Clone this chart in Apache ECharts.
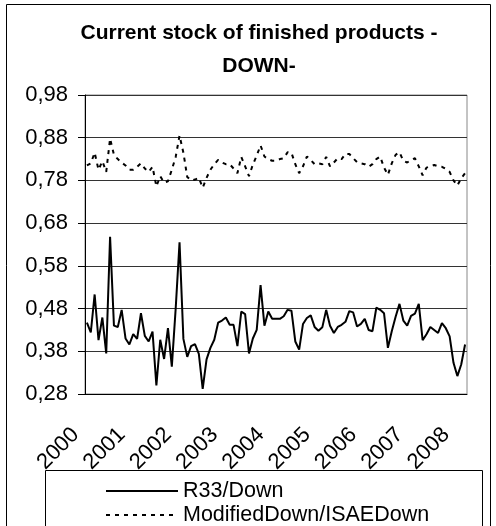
<!DOCTYPE html>
<html>
<head>
<meta charset="utf-8">
<script src="https://cdn.jsdelivr.net/npm/echarts@6/dist/echarts.min.js"></script>
<style>
  html, body { margin: 0; padding: 0; background: #fff; }
  #chart { width: 496px; height: 526px; }
</style>
</head>
<body>
<div id="chart"></div>
<script>
// monthly, Jan 2000 .. Mar 2008
const years = ["2000", "2001", "2002", "2003", "2004", "2005", "2006", "2007", "2008"];
const monthCount = 99;
const months = [];
for (let i = 0; i < monthCount; i++) {
  const y = years[Math.floor(i / 12)];
  const m = (i % 12) + 1;
  months.push(y + "-" + (m < 10 ? "0" + m : m));
}

const r33Down = [
  0.447, 0.424, 0.513, 0.406, 0.459, 0.375, 0.648, 0.440, 0.437, 0.477,
  0.410, 0.396, 0.420, 0.409, 0.469, 0.416, 0.403, 0.426, 0.300, 0.407,
  0.362, 0.434, 0.344, 0.480, 0.635, 0.409, 0.367, 0.392, 0.397, 0.374,
  0.292, 0.361, 0.388, 0.407, 0.447, 0.452, 0.459, 0.442, 0.442, 0.392,
  0.473, 0.467, 0.375, 0.410, 0.430, 0.535, 0.440, 0.473, 0.456, 0.456,
  0.456, 0.462, 0.477, 0.475, 0.403, 0.384, 0.444, 0.458, 0.464, 0.437,
  0.428, 0.436, 0.477, 0.440, 0.423, 0.437, 0.442, 0.449, 0.474, 0.471,
  0.438, 0.444, 0.456, 0.430, 0.427, 0.482, 0.477, 0.469, 0.388, 0.427,
  0.461, 0.491, 0.452, 0.440, 0.463, 0.468, 0.491, 0.406, 0.420, 0.437,
  0.430, 0.423, 0.446, 0.434, 0.415, 0.353, 0.322, 0.349, 0.396
];

const modifiedDown = [
  0.815, 0.820, 0.845, 0.805, 0.825, 0.800, 0.878, 0.840, 0.830, 0.822,
  0.815, 0.805, 0.805, 0.812, 0.820, 0.808, 0.800, 0.812, 0.766, 0.790,
  0.775, 0.778, 0.805, 0.835, 0.885, 0.845, 0.788, 0.780, 0.782, 0.786,
  0.763, 0.786, 0.805, 0.818, 0.828, 0.822, 0.818, 0.818, 0.808, 0.797,
  0.835, 0.813, 0.790, 0.817, 0.838, 0.862, 0.836, 0.830, 0.826, 0.826,
  0.830, 0.832, 0.846, 0.845, 0.818, 0.797, 0.813, 0.836, 0.828, 0.818,
  0.820, 0.818, 0.835, 0.813, 0.822, 0.832, 0.830, 0.842, 0.842, 0.832,
  0.823, 0.820, 0.818, 0.812, 0.818, 0.830, 0.836, 0.810, 0.793, 0.820,
  0.840, 0.846, 0.826, 0.822, 0.828, 0.832, 0.813, 0.792, 0.810, 0.813,
  0.816, 0.813, 0.812, 0.807, 0.800, 0.780, 0.768, 0.785, 0.797
];

const seriesNames = ["R33/Down", "ModifiedDown/ISAEDown"];

const font = "'Liberation Sans', Arial, sans-serif";

const chart = echarts.init(document.getElementById("chart"), null, { renderer: "canvas" });

const option = {
  animation: false,
  title: {
    text: "Current stock of finished products -\nDOWN-",
    left: 254,
    textAlign: "center",
    top: 12,
    textStyle: {
      fontFamily: font,
      fontSize: 21,
      fontWeight: "bold",
      color: "#000",
      lineHeight: 33,
    },
  },
  graphic: [
    {
      type: "rect",
      shape: { x: 6.5, y: 4.5, width: 484, height: 560 },
      style: { fill: "none", stroke: "#000", lineWidth: 1 },
      silent: true,
    },
    {
      type: "rect",
      shape: { x: 45.5, y: 470.5, width: 437, height: 90 },
      style: { fill: "#fff", stroke: "#000", lineWidth: 1 },
      silent: true,
      z: -1,
    },
  ],
  legend: {
    orient: "vertical",
    left: 100,
    top: 475,
    height: 90,
    itemWidth: 72,
    itemHeight: 14,
    itemGap: 2,
    data: seriesNames,
    itemStyle: { color: "transparent", borderWidth: 0 },
    textStyle: { fontFamily: font, fontSize: 21.5, color: "#000" },
  },
  grid: {
    left: 85,
    right: 29,
    top: 95,
    bottom: 132,
    show: true,
    borderColor: "#888",
    borderWidth: 1,
    backgroundColor: "#fff",
  },
  xAxis: {
    type: "category",
    data: months,
    boundaryGap: true,
    axisLine: { lineStyle: { color: "#000", width: 1 } },
    axisTick: { interval: 0, length: 6, lineStyle: { color: "#000" } },
    axisLabel: {
      interval: 11,
      rotate: 45,
      margin: 26,
      padding: [0, 16, 0, 0],
      fontFamily: font,
      fontSize: 22,
      color: "#000",
      formatter: (v) => v.slice(0, 4),
    },
    splitLine: { show: false },
  },
  yAxis: {
    type: "value",
    min: 0.28,
    max: 0.98,
    interval: 0.1,
    axisLine: { show: true, lineStyle: { color: "#000", width: 1 } },
    axisTick: { show: true, length: 7, lineStyle: { color: "#000" } },
    axisLabel: {
      margin: 17,
      fontFamily: font,
      fontSize: 22,
      color: "#000",
      formatter: (v) => v.toFixed(2).replace(".", ","),
    },
    splitLine: { show: true, lineStyle: { color: "#333", width: 1 } },
  },
  series: [
    {
      name: seriesNames[0],
      type: "line",
      data: r33Down,
      symbol: "none",
      lineStyle: { color: "#000", width: 2 },
      itemStyle: { color: "#000" },
    },
    {
      name: seriesNames[1],
      type: "line",
      data: modifiedDown,
      symbol: "none",
      lineStyle: { color: "#000", width: 2, type: [4, 5] },
      itemStyle: { color: "#000" },
    },
  ],
};

chart.setOption(option);
</script>
</body>
</html>
